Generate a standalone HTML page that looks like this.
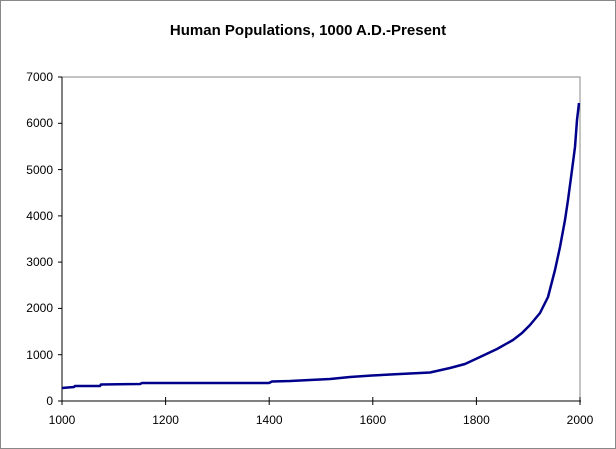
<!DOCTYPE html><html><head><style>body{margin:0;background:#fff}svg{display:block}text{font-family:"Liberation Sans",sans-serif}</style></head><body>
<svg width="616" height="449" viewBox="0 0 616 449" xmlns="http://www.w3.org/2000/svg">
<rect x="0.5" y="0.5" width="615" height="448" fill="#fff" stroke="#888"/>
<text x="308" y="35" text-anchor="middle" font-size="15" font-weight="bold">Human Populations, 1000 A.D.-Present</text>
<polyline points="62,77 580,77 580,401" fill="none" stroke="#888" stroke-width="1"/>
<line x1="62" y1="77" x2="62" y2="402" stroke="#000"/>
<line x1="62" y1="401" x2="581" y2="401" stroke="#000"/>
<g stroke="#000">
<line x1="58" y1="77" x2="62" y2="77"/><line x1="58" y1="123.3" x2="62" y2="123.3"/><line x1="58" y1="169.6" x2="62" y2="169.6"/><line x1="58" y1="215.9" x2="62" y2="215.9"/><line x1="58" y1="262.1" x2="62" y2="262.1"/><line x1="58" y1="308.4" x2="62" y2="308.4"/><line x1="58" y1="354.7" x2="62" y2="354.7"/><line x1="58" y1="401" x2="62" y2="401"/>
<line x1="62" y1="397" x2="62" y2="405"/><line x1="165.6" y1="397" x2="165.6" y2="405"/><line x1="269.2" y1="397" x2="269.2" y2="405"/><line x1="372.8" y1="397" x2="372.8" y2="405"/><line x1="476.4" y1="397" x2="476.4" y2="405"/><line x1="580" y1="397" x2="580" y2="405"/>
</g>
<g font-size="12" text-anchor="end">
<text x="53" y="81">7000</text><text x="53" y="127">6000</text><text x="53" y="174">5000</text><text x="53" y="220">4000</text><text x="53" y="266">3000</text><text x="53" y="312">2000</text><text x="53" y="359">1000</text><text x="53" y="405">0</text>
</g>
<g font-size="12" text-anchor="middle">
<text x="62" y="424">1000</text><text x="165.6" y="424">1200</text><text x="269.2" y="424">1400</text><text x="372.8" y="424">1600</text><text x="476.4" y="424">1800</text><text x="580" y="424">2000</text>
</g>
<polyline fill="none" stroke="#00008b" stroke-width="2.5" stroke-linejoin="round" points="62,388 74,387 75,386 100,386 101,384.5 140,384 142,383 269,383 272,381.5 290,381 310,380 330,379 350,377 372,375.5 400,374 430,372.5 450,368 465,364 480,357 497,349 513,340 522,333 530,325 540,313 548,297 555,270 560,247 565,220 568,200 572,170 575,147 577,120 579,103"/>
</svg></body></html>
